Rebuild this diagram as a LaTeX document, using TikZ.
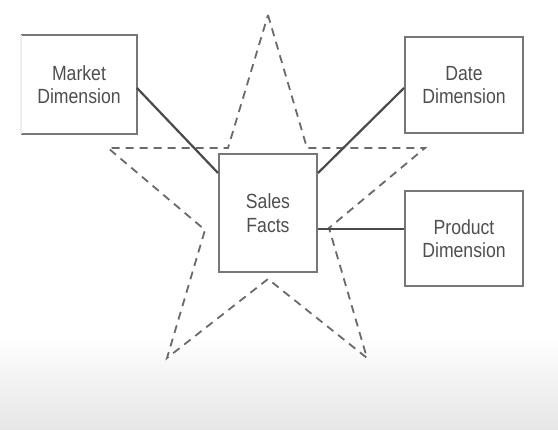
\documentclass[tikz,border=0pt]{standalone}
\usepackage{fontspec}
\setmainfont{Liberation Sans}[FakeStretch=0.86]
\begin{document}
\begin{tikzpicture}[x=1pt,y=-1pt,
  box/.style={draw=boxc,line width=2pt,fill=white,minimum width=#1,inner sep=0pt,align=center,
     text=txtc,font=\fontsize{20.5}{23.5}\selectfont},
  link/.style={draw=linec,line width=2.2pt},
  starline/.style={draw=starc,line width=1.8pt,dash pattern=on 8pt off 6pt}]
\definecolor{boxc}{HTML}{777777}
\definecolor{linec}{HTML}{4A4A4A}
\definecolor{starc}{HTML}{6A6A6A}
\definecolor{txtc}{HTML}{4F4F4F}
\definecolor{faintc}{HTML}{EEEEEE}
\definecolor{bottomc}{HTML}{E6E6E6}
\useasboundingbox (0,0) rectangle (558,430);
\fill[white] (0,0) rectangle (558,335);
\shade[top color=white,bottom color=bottomc] (0,335) rectangle (558,430);
% star
\coordinate (s1) at (268,15);
\coordinate (s2) at (307,148);
\coordinate (s3) at (425,148);
\coordinate (s4) at (329,228);
\coordinate (s5) at (367,358);
\coordinate (s6) at (268,279);
\coordinate (s7) at (167,358);
\coordinate (s8) at (205,230);
\coordinate (s9) at (108,148);
\coordinate (s10) at (228,148);
\draw[starline] (s1) -- (s2) -- (s3) -- (s4) -- (s5) -- (s6) -- (s7) -- (s8) -- (s9) -- (s10) -- cycle;
% boxes
\node[box=114pt,minimum height=97pt,draw=none] (market) at (79,84.5) {Market\\Dimension};
\draw[boxc,line width=2pt] (market.north west) -- (market.north east) -- (market.south east) -- (market.south west);
\draw[faintc,line width=1.5pt] (market.north west) -- (market.south west);
\node[box=118pt,minimum height=96pt] (date) at (464,85) {Date\\Dimension};
\node[box=118pt,minimum height=95pt] (product) at (464,238.5) {Product\\Dimension};
\node[box=98pt,minimum height=118pt] (sales) at (268,213) {Sales\\Facts};
% connectors
\draw[link] (market.east |- 0,88) -- (sales.west |- 0,173);
\draw[link] (date.west |- 0,88) -- (sales.east |- 0,173);
\draw[link] (product.west |- 0,229) -- (sales.east |- 0,229);
\end{tikzpicture}
\end{document}
